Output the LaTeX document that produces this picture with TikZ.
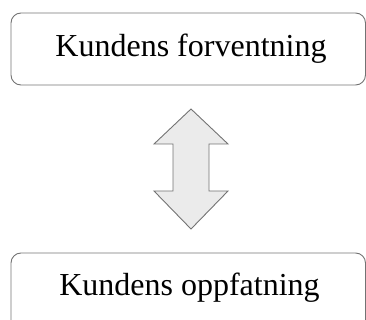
\documentclass[tikz,border=0pt]{standalone}
\usepackage{fontspec}
\setmainfont{Liberation Serif}
\begin{document}
\begin{tikzpicture}[x=1pt,y=-1pt,
  labelbox/.style={draw=black!55, line width=0.9pt, rounded corners=10pt},
  labeltext/.style={font=\fontsize{32}{36}\selectfont, inner sep=0pt, anchor=base},
  twoway/.style={draw=black!55, fill=black!8, line width=0.9pt, line join=miter}]
  \useasboundingbox (0,0) rectangle (366,320);
  % upper box: expectation
  \draw[labelbox] (11,13) rectangle (365.5,85);
  \node[labeltext] (forv) at (191,57) {Kundens forventning};
  % lower box: perception (runs past the lower edge)
  \draw[labelbox] (11,253) rectangle (365.5,340);
  \node[labeltext] (oppf) at (189.5,295) {Kundens oppfatning};
  % two-way arrow between the boxes
  \draw[twoway] (191,109) -- (228,144) -- (209,144) -- (209,191) -- (228,191)
    -- (191,229) -- (154,191) -- (173,191) -- (173,144) -- (154,144) -- cycle;
\end{tikzpicture}
\end{document}
